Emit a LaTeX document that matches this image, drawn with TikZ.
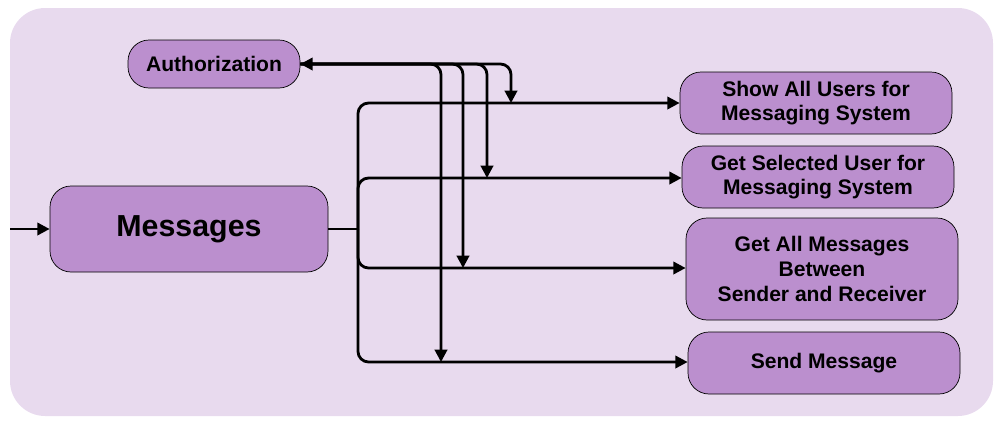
\documentclass[tikz,border=0pt]{standalone}
\usepackage{fontspec}
\setmainfont{Liberation Sans}
\usetikzlibrary{arrows.meta}
\definecolor{bg}{HTML}{E8DAEE}
\definecolor{nd}{HTML}{BB8FCE}
\begin{document}
\begin{tikzpicture}[x=0.02cm,y=-0.02cm,
 box/.style={draw=black,fill=nd,rounded corners=12pt,align=center,font=\bfseries\large,inner sep=0pt},
 ln/.style={line width=1.6pt,-{Stealth[length=7pt,width=7pt,inset=0pt]}, rounded corners=6pt}]
\useasboundingbox (0,0) rectangle (1002,424);
\fill[bg,rounded corners=20pt] (10,8) rectangle (993,416);
\node[box,minimum width=172*0.02cm,minimum height=48*0.02cm] (auth) at (214,64) {Authorization};
\node[box,minimum width=278*0.02cm,minimum height=86*0.02cm,font=\bfseries\LARGE] (msg) at (189,229) {Messages};
\node[box,minimum width=272*0.02cm,minimum height=62*0.02cm] (show) at (816,103) {Show All Users for\\Messaging System};
\node[box,minimum width=272*0.02cm,minimum height=62*0.02cm] (sel) at (818,177) {Get Selected User for\\Messaging System};
\node[box,minimum width=272*0.02cm,minimum height=102*0.02cm] (all) at (822,269) {Get All Messages\\Between\\Sender and Receiver};
\node[box,minimum width=272*0.02cm,minimum height=62*0.02cm] (send) at (824,363) {Send Message};
\coordinate (in) at (10,229);
\coordinate (j) at (358,229);
\draw[ln] (in) -- (msg.west);
\draw[line width=1.6pt] (msg.east) -- (j);
\draw[ln] (j) -- (358,103) -- (show.west |- 0,103);
\draw[ln] (j) -- (358,178) -- (sel.west |- 0,178);
\draw[ln] (j) -- (358,268) -- (all.west |- 0,268);
\draw[ln] (j) -- (358,362) -- (send.west |- 0,362);
\draw[ln] (441,64) -- (auth.east);
\draw[ln] (auth.east) -- (441,64) -- (441,362);
\draw[ln] (auth.east) -- (463,64) -- (463,268);
\draw[ln] (auth.east) -- (487,64) -- (487,178);
\draw[ln] (auth.east) -- (511,64) -- (511,103);
\end{tikzpicture}
\end{document}
